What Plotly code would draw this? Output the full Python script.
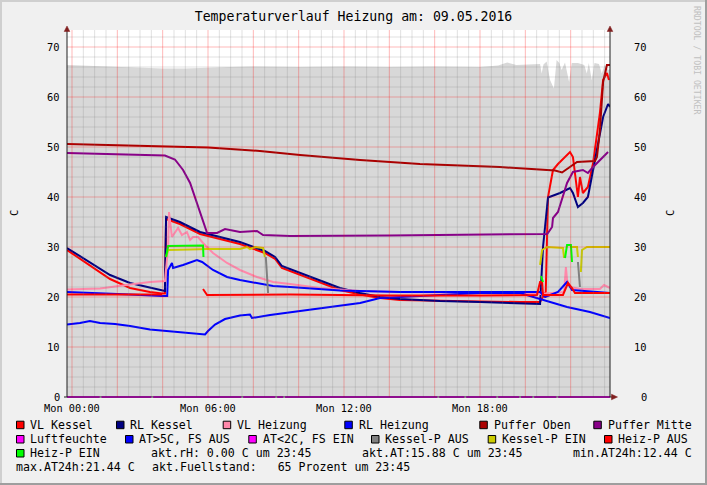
import plotly.graph_objects as go

# ---------------- data (time in hours since Mon 00:00, values in C) ----------------
title_text = "Temperaturverlauf Heizung am: 09.05.2016"
x_tick_hours = [0, 6, 12, 18]
x_tick_labels = ["Mon 00:00", "Mon 06:00", "Mon 12:00", "Mon 18:00"]
y_ticks = [0, 10, 20, 30, 40, 50, 60, 70]

fuell_t = [-0.22, 1.0, 2.0, 3.0, 4.0, 5.0, 6.0, 7.0, 8.0, 10.0, 12.0, 14.0, 16.0, 18.0, 18.8, 19.2,
           19.6, 20.4, 20.65, 20.72, 20.8, 20.94, 21.09, 21.26, 21.38, 21.5, 21.6, 21.75, 21.93,
           22.05, 22.32, 22.6, 22.71, 22.8, 22.93, 23.05, 23.25, 23.37, 23.5, 23.66, 23.74]
fuell_v = [66.4, 66.2, 66.0, 65.8, 65.7, 65.7, 65.9, 66.0, 66.1, 66.0, 66.1, 66.0, 66.1, 66.0, 66.3, 66.9,
           66.4, 66.6, 66.6, 64.7, 66.5, 67.1, 63.4, 61.7, 67.4, 66.8, 65.4, 66.9, 63.0,
           66.8, 66.8, 66.4, 64.7, 66.8, 63.4, 66.8, 66.6, 64.7, 66.4, 65.4, 65.6]

vl_kessel_t = [-0.22, 0.79, 1.68, 2.56, 3.44, 3.97, 4.10, 4.15, 4.76, 5.65, 6.53, 7.41, 8.51, 8.96, 9.26,
               10.06, 10.94, 11.82, 12.71, 13.59, 14.47, 16.23, 18.0, 19.76, 20.56, 20.65, 20.9, 21.0,
               21.22, 21.44, 21.97, 22.10, 22.32, 22.41, 22.54, 22.76, 22.99, 23.16, 23.29, 23.43, 23.60, 23.69]
vl_kessel_v = [29.4, 26.4, 23.6, 21.8, 21.0, 20.7, 20.7, 35.6, 34.6, 32.6, 31.6, 30.6, 28.8, 27.6, 25.8,
               24.4, 22.8, 21.4, 20.5, 19.8, 19.4, 19.2, 19.1, 19.0, 18.9, 19.0, 21.0, 40.0,
               45.4, 46.6, 49.0, 48.0, 40.0, 44.0, 40.8, 42.0, 46.8, 52.0, 56.8, 63.4, 64.8, 63.4]

rl_kessel_t = [-0.22, 0.79, 1.68, 2.56, 3.44, 3.97, 4.10, 4.15, 4.76, 5.65, 6.53, 7.41, 8.51, 8.96, 9.26,
               10.06, 10.94, 11.82, 12.71, 13.59, 14.47, 16.23, 18.0, 19.76, 20.56, 20.65, 20.78, 21.0,
               21.53, 21.97, 22.10, 22.32, 22.54, 22.76, 22.99, 23.21, 23.43, 23.65, 23.74]
rl_kessel_v = [29.8, 27.0, 24.4, 22.8, 21.8, 21.2, 21.2, 36.0, 35.0, 33.0, 32.0, 31.0, 29.2, 28.0, 26.2,
               24.8, 23.2, 21.8, 20.8, 20.0, 19.6, 19.2, 19.0, 18.8, 18.6, 18.6, 30.0, 39.9,
               40.8, 41.8, 40.8, 38.0, 38.8, 40.0, 45.4, 50.8, 56.0, 58.6, 58.0]

vl_heizung_t = [-0.22, 1.24, 2.56, 3.44, 4.10, 4.24, 4.28, 4.41, 4.68, 4.85, 5.07, 5.21, 5.34, 5.56, 5.78,
                6.22, 6.84, 7.41, 8.16, 8.87, 9.62, 10.94, 12.71, 14.47, 18.0, 20.65, 21.71, 21.79, 21.84,
                21.97, 22.41, 23.29, 23.47, 23.74]
vl_heizung_v = [21.5, 21.7, 22.5, 23.0, 23.2, 30.0, 37.0, 32.0, 33.8, 32.4, 33.0, 31.4, 32.0, 32.0, 30.8,
                28.8, 26.8, 25.4, 24.0, 23.0, 22.6, 21.8, 21.2, 21.0, 20.8, 20.6, 21.0, 26.0, 23.4,
                22.0, 21.6, 21.6, 22.4, 21.8]

rl_heizung_t = [-0.22, 1.24, 2.56, 3.97, 4.20, 4.24, 4.41, 4.46, 4.63, 4.90, 5.51, 5.74, 6.22, 6.84, 7.41,
                8.16, 8.87, 9.62, 11.82, 14.47, 18.0, 20.65, 20.87, 21.44, 21.84, 22.06, 23.74]
rl_heizung_v = [21.0, 20.8, 20.5, 20.2, 20.2, 25.4, 26.8, 25.8, 26.0, 26.4, 27.4, 27.0, 25.4, 24.0, 23.4,
                22.8, 22.2, 22.0, 21.3, 21.0, 21.0, 21.0, 20.0, 21.0, 23.0, 21.4, 20.8]

puffer_oben_t = [-0.22, 3.88, 6.0, 8.29, 10.06, 12.71, 15.35, 18.88, 21.31, 21.62, 22.28, 23.07, 23.16,
                 23.29, 23.43, 23.60, 23.74]
puffer_oben_v = [50.6, 50.2, 49.9, 49.2, 48.4, 47.4, 46.6, 46.0, 45.3, 44.9, 47.0, 47.2, 48.0,
                 53.4, 63.0, 66.4, 66.4]

puffer_mitte_t = [-0.22, 4.10, 4.54, 4.90, 5.21, 5.51, 5.78, 5.96, 6.40, 6.75, 7.41, 8.16, 8.43, 9.62,
                  14.0, 20.96, 21.00, 21.18, 21.22, 21.44, 21.84, 22.10, 22.54, 22.76, 22.99, 23.29, 23.65]
puffer_mitte_v = [48.8, 48.3, 47.5, 45.4, 42.8, 38.8, 34.8, 32.8, 32.8, 33.6, 33.0, 33.2, 32.4, 32.2,
                  32.3, 32.6, 32.8, 34.0, 35.8, 37.0, 42.8, 45.0, 45.4, 44.8, 46.0, 47.4, 49.0]

luftfeuchte_t = [-0.22, 1.22, None, 1.30, 3.50, None, 3.58, 7.47, None, 7.55, 8.97, None, 9.05, 9.32, None,
                 9.40, 16.12, None, 16.20, 17.31, None, 17.39, 18.72, None, 18.80, 19.73, None, 19.81,
                 20.31, None, 20.39, 21.37, None, 21.45, 23.74]
luftfeuchte_v = [0, 0, None, 0, 0, None, 0, 0, None, 0, 0, None, 0, 0, None,
                 0, 0, None, 0, 0, None, 0, 0, None, 0, 0, None, 0,
                 0, None, 0, 0, None, 0, 0]

at_t = [-0.22, 0.35, 0.79, 1.24, 1.90, 2.56, 3.44, 4.10, 5.21, 5.87, 6.0, 6.31, 6.75, 7.41, 7.85, 7.94,
        8.74, 10.06, 11.82, 12.71, 13.59, 14.47, 16.23, 18.0, 19.76, 20.51, 21.84, 22.85, 23.74]
at_v = [14.5, 14.8, 15.2, 14.8, 14.6, 14.2, 13.5, 13.2, 12.8, 12.5, 13.2, 14.5, 15.6, 16.3, 16.5, 15.8,
        16.4, 17.2, 18.3, 18.8, 19.8, 20.0, 20.5, 20.8, 20.8, 19.8, 18.0, 17.0, 15.8]

kessel_p_aus_t = [8.55, 8.65, None, 22.32, 22.41]
kessel_p_aus_v = [28.0, 20.8, None, 27.0, 22.0]

kessel_p_ein_t = [4.15, 4.24, 5.21, 5.96, 7.41, 7.72, 7.85, 8.07, 8.43, 8.51, None,
                  20.65, 20.74, 20.96, 21.66, 21.71, None, 22.06, 22.28, 22.32, None,
                  22.45, 22.50, 22.72, 23.74]
kessel_p_ein_v = [28.0, 29.4, 29.5, 29.6, 29.6, 30.0, 29.6, 30.0, 29.8, 28.0, None,
                  26.4, 29.4, 30.0, 29.8, 27.8, None, 30.0, 30.0, 28.0, None,
                  25.0, 29.4, 30.0, 30.0]

heiz_p_aus_t = [-0.22, 3.97, None, 5.78, 5.96, 9.62, 14.0, 18.0, 20.51, 20.65, 20.74, 20.78, 21.66,
                21.88, 22.06, 22.19, 23.74]
heiz_p_aus_v = [20.5, 20.5, None, 21.6, 20.4, 20.5, 20.3, 20.3, 20.4, 23.0, 23.0, 20.4, 20.4,
                22.8, 21.8, 20.8, 20.8]

heiz_p_ein_t = [4.15, 4.24, 5.78, 5.80, None, 20.69, 20.78, None, 21.75, 21.84, 22.01, 22.06]
heiz_p_ein_v = [28.0, 30.2, 30.3, 28.0, None, 24.2, 23.0, None, 27.8, 30.4, 30.4, 27.0]

legend_rows = [
    [("VL Kessel", "#ff0000"), ("RL Kessel", "#000080"), ("VL Heizung", "#ff88aa"),
     ("RL Heizung", "#0000ff"), ("Puffer Oben", "#aa0000"), ("Puffer Mitte", "#880088")],
    [("Luftfeuchte", "#ff00ff"), ("AT>5C, FS AUS", "#0000ff"), ("AT<2C, FS EIN", "#ff00ff"),
     ("Kessel-P AUS", "#808080"), ("Kessel-P EIN", "#cccc00"), ("Heiz-P AUS", "#ff0000")],
    [("Heiz-P EIN", "#00ff00")],
]
info_row3 = ["akt.rH: 0.00 C um 23:45", "akt.AT:15.88 C um 23:45", "min.AT24h:12.44 C"]
info_row4 = ["max.AT24h:21.44 C", "akt.Fuellstand:   65 Prozent um 23:45"]

# ---------------- layout geometry (pixels) ----------------
W, H = 707, 485
PL, PR, PT = 67, 610, 30
AXIS_Y = 397              # pixel row of value 0
Y_MIN, Y_MAX = -0.4, 73.4  # 5 px per degree
PB = AXIS_Y + 2           # bottom of plotting rectangle
X_MIN, X_MAX = -5 / 22.667, 538 / 22.667

def fx(px):
    return (px - PL) / (PR - PL)

def fy(py):
    return (PB - py) / (PB - PT)

MONO = "DejaVu Sans Mono"

fig = go.Figure()

# filled level area
fig.add_trace(go.Scatter(x=fuell_t, y=fuell_v, mode="lines", fill="tozeroy",
                         fillcolor="#d8d8d8", line=dict(width=0, color="#d8d8d8"),
                         hoverinfo="skip"))

series = [
    (vl_kessel_t, vl_kessel_v, "#ff0000"),
    (rl_kessel_t, rl_kessel_v, "#000080"),
    (vl_heizung_t, vl_heizung_v, "#ff88aa"),
    (rl_heizung_t, rl_heizung_v, "#0000ff"),
    (puffer_oben_t, puffer_oben_v, "#aa0000"),
    (puffer_mitte_t, puffer_mitte_v, "#880088"),
    (luftfeuchte_t, luftfeuchte_v, "#ff00ff"),
    (at_t, at_v, "#0000ff"),
    (kessel_p_aus_t, kessel_p_aus_v, "#808080"),
    (kessel_p_ein_t, kessel_p_ein_v, "#cccc00"),
    (heiz_p_aus_t, heiz_p_aus_v, "#ff0000"),
    (heiz_p_ein_t, heiz_p_ein_v, "#00ff00"),
]
for t, v, c in series:
    fig.add_trace(go.Scatter(x=t, y=v, mode="lines", line=dict(color=c, width=2),
                             connectgaps=False, hoverinfo="skip"))

shapes = []
# grid (semi-transparent, drawn over the area like rrdtool)
minor_col = "rgba(120,120,120,0.22)"
major_col = "rgba(255,0,0,0.28)"
for i in range(0, 48):
    h = i * 0.5
    if i % 4 == 0:
        continue
    shapes.append(dict(type="line", xref="x", yref="y", x0=h, x1=h, y0=0, y1=Y_MAX,
                       line=dict(color=minor_col, width=1), layer="above"))
for i in range(1, 37):
    v = i * 2
    if v % 10 == 0:
        continue
    shapes.append(dict(type="line", xref="x", yref="y", x0=X_MIN, x1=X_MAX, y0=v, y1=v,
                       line=dict(color=minor_col, width=1), layer="above"))
for i in range(0, 12):
    h = i * 2
    shapes.append(dict(type="line", xref="x", yref="y", x0=h, x1=h, y0=0, y1=Y_MAX,
                       line=dict(color=major_col, width=1), layer="above"))
for v in y_ticks[1:]:
    shapes.append(dict(type="line", xref="x", yref="y", x0=X_MIN, x1=X_MAX, y0=v, y1=v,
                       line=dict(color=major_col, width=1), layer="above"))

# cover the strip below the zero line with the background colour, axes on top
shapes.append(dict(type="rect", xref="paper", yref="paper", x0=fx(60), x1=fx(620), y0=fy(PB + 0.5),
                   y1=fy(AXIS_Y + 1.2), fillcolor="#f0f0f0", line=dict(width=0), layer="below"))

axis_col = "#1f1f1f"
arrow_col = "#801f1f"
shapes.append(dict(type="line", xref="paper", yref="paper", x0=fx(67), x1=fx(67), y0=fy(AXIS_Y), y1=fy(29),
                   line=dict(color=axis_col, width=1), layer="above"))
shapes.append(dict(type="line", xref="paper", yref="paper", x0=fx(610), x1=fx(610), y0=fy(AXIS_Y), y1=fy(29),
                   line=dict(color=axis_col, width=1), layer="above"))
shapes.append(dict(type="line", xref="paper", yref="paper", x0=fx(64), x1=fx(613), y0=fy(AXIS_Y),
                   y1=fy(AXIS_Y), line=dict(color=axis_col, width=1), layer="above"))
for ax in (67, 610):
    path = "M {a},{b} L {c},{d} L {e},{f} Z".format(a=fx(ax - 2.8), b=fy(31.5), c=fx(ax), d=fy(26),
                                                   e=fx(ax + 2.8), f=fy(31.5))
    shapes.append(dict(type="path", xref="paper", yref="paper", path=path,
                       fillcolor=arrow_col, line=dict(color=arrow_col, width=0.5), layer="above"))
path = "M {a},{b} L {c},{d} L {e},{f} Z".format(a=fx(611.5), b=fy(AXIS_Y - 2.8), c=fx(617.5), d=fy(AXIS_Y),
                                               e=fx(611.5), f=fy(AXIS_Y + 2.8))
shapes.append(dict(type="path", xref="paper", yref="paper", path=path,
                   fillcolor=arrow_col, line=dict(color=arrow_col, width=0.5), layer="above"))

# 3D frame around the image
shapes.append(dict(type="rect", xref="paper", yref="paper", x0=fx(0), x1=fx(707), y0=fy(485), y1=fy(483),
                   fillcolor="#9e9e9e", line=dict(width=0), layer="below"))
shapes.append(dict(type="rect", xref="paper", yref="paper", x0=fx(705), x1=fx(707), y0=fy(485), y1=fy(0),
                   fillcolor="#9e9e9e", line=dict(width=0), layer="below"))
shapes.append(dict(type="rect", xref="paper", yref="paper", x0=fx(0), x1=fx(705), y0=fy(2), y1=fy(0),
                   fillcolor="#cfcfcf", line=dict(width=0), layer="below"))
shapes.append(dict(type="rect", xref="paper", yref="paper", x0=fx(0), x1=fx(2), y0=fy(483), y1=fy(0),
                   fillcolor="#cfcfcf", line=dict(width=0), layer="below"))

annotations = []
# tick labels (left and right y, bottom x)
TICK_FONT = dict(family=MONO, size=10.4, color="#000000")
for v in y_ticks:
    for tx, anchor in ((60.5, "right"), (647.5, "right")):
        annotations.append(dict(x=fx(tx), y=v, xref="paper", yref="y", text=str(v), showarrow=False,
                                xanchor=anchor, yanchor="middle", borderpad=0, font=TICK_FONT))
for h, lab in zip(x_tick_hours, x_tick_labels):
    annotations.append(dict(x=h, y=fy(408), xref="x", yref="paper", text=lab.replace(" ", "\u00a0"),
                            showarrow=False, xanchor="center", yanchor="middle", borderpad=0,
                            font=dict(family=MONO, size=10.3, color="#000000")))
# unit labels
for ux in (14, 670):
    annotations.append(dict(x=fx(ux), y=fy(213), xref="paper", yref="paper", text="C", showarrow=False,
                            textangle=-90, xanchor="center", yanchor="middle", borderpad=0,
                            font=dict(family=MONO, size=10.4, color="#000000")))
# watermark
annotations.append(dict(x=fx(697), y=fy(60), xref="paper", yref="paper", text="RRDTOOL / TOBI OETIKER",
                        showarrow=False, textangle=90, xanchor="center", yanchor="middle", borderpad=0,
                        font=dict(family=MONO, size=8.2, color="#c0c0c0")))

# legend
row_y = [424.7, 439.0, 453.0, 467.0]
box_x = [[16, 116, 222.7, 344.3, 479.3, 593.3],
         [16, 125, 248.3, 371, 487.7, 604],
         [16]]
LEG_FONT = dict(family=MONO, size=11.6, color="#000000")

def nb(s):
    return s.replace(" ", "\u00a0")

for r, row in enumerate(legend_rows):
    for k, (label, col) in enumerate(row):
        bx = box_x[r][k]
        cy = row_y[r]
        shapes.append(dict(type="rect", xref="paper", yref="paper", x0=fx(bx + 0.5), x1=fx(bx + 8),
                           y0=fy(cy + 4), y1=fy(cy - 3.5), fillcolor=col,
                           line=dict(color="#000000", width=1), layer="above"))
        annotations.append(dict(x=fx(bx + 13.3), y=fy(cy), xref="paper", yref="paper", text=nb(label),
                                showarrow=False, xanchor="left", yanchor="middle", borderpad=0,
                                font=LEG_FONT))
for txt, tx in zip(info_row3, [150.2, 361.2, 572.2]):
    annotations.append(dict(x=fx(tx), y=fy(row_y[2]), xref="paper", yref="paper", text=nb(txt),
                            showarrow=False, xanchor="left", yanchor="middle", borderpad=0, font=LEG_FONT))
for txt, tx in zip(info_row4, [15.3, 151.2]):
    annotations.append(dict(x=fx(tx), y=fy(row_y[3]), xref="paper", yref="paper", text=nb(txt),
                            showarrow=False, xanchor="left", yanchor="middle", borderpad=0, font=LEG_FONT))

fig.update_layout(
    width=W, height=H, autosize=False,
    margin=dict(l=PL, r=W - PR, t=PT, b=H - PB, pad=0),
    paper_bgcolor="#f0f0f0", plot_bgcolor="#ffffff",
    showlegend=False,
    title=dict(text=title_text, x=0.5, xref="container", xanchor="center",
               y=1 - 16 / H, yref="container", yanchor="middle",
               font=dict(family=MONO, size=13.2, color="#000000")),
    xaxis=dict(range=[X_MIN, X_MAX], showticklabels=False, showgrid=False, zeroline=False,
               showline=False, ticks="", fixedrange=True, automargin=False),
    yaxis=dict(range=[Y_MIN, Y_MAX], showticklabels=False, showgrid=False, zeroline=False,
               showline=False, ticks="", fixedrange=True, automargin=False),
    shapes=shapes,
    annotations=annotations,
)

fig.write_html("out.html", config={"displayModeBar": False},
               post_script="document.body.style.margin='0';document.body.style.overflow='hidden';")
